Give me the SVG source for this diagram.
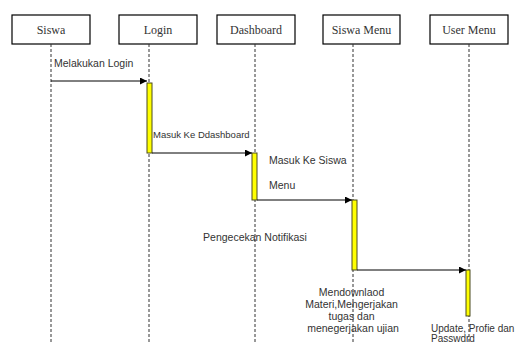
<svg xmlns="http://www.w3.org/2000/svg" width="516" height="344" viewBox="0 0 516 344">
  <style>
    .head rect { fill: #ffffff; stroke: #000000; stroke-width: 1.2; }
    .head text { font-family: "Liberation Serif", "Times New Roman", serif; font-size: 12px; fill: #333333; text-anchor: middle; }
    .life { stroke: #333333; stroke-width: 1; stroke-dasharray: 3 2; fill: none; }
    .act { fill: #ffff00; stroke: #4a4a20; stroke-width: 1; }
    .msg { stroke: #000000; stroke-width: 1; fill: none; marker-end: url(#arrow); }
    .lbl { font-family: "Liberation Sans", Arial, sans-serif; font-size: 10.5px; fill: #333333; }
  </style>
  <defs>
    <marker id="arrow" viewBox="0 0 10 10" refX="10" refY="5" markerWidth="7" markerHeight="7" markerUnits="userSpaceOnUse" orient="auto">
      <path d="M0,0 L10,5 L0,10 Z" fill="#000000"/>
    </marker>
  </defs>

  <rect width="516" height="344" fill="#ffffff"/>

  <!-- participants -->
  <g id="siswa" class="head">
    <rect x="12" y="15" width="78" height="29"/>
    <line class="life" x1="51" y1="44" x2="51" y2="344"/>
    <text x="51" y="34">Siswa</text>
  </g>
  <g id="login" class="head">
    <rect x="119" y="15" width="78" height="29"/>
    <line class="life" x1="149" y1="44" x2="149" y2="344"/>
    <text x="158" y="34">Login</text>
  </g>
  <g id="dashboard" class="head">
    <rect x="217" y="15" width="78" height="29"/>
    <line class="life" x1="255" y1="44" x2="255" y2="344"/>
    <text x="256" y="34">Dashboard</text>
  </g>
  <g id="siswa-menu" class="head">
    <rect x="323" y="15" width="77" height="29"/>
    <line class="life" x1="353" y1="44" x2="353" y2="344"/>
    <text x="361.5" y="34">Siswa Menu</text>
  </g>
  <g id="user-menu" class="head">
    <rect x="430" y="15" width="78" height="29"/>
    <line class="life" x1="469" y1="44" x2="469" y2="344"/>
    <text x="469" y="34">User Menu</text>
  </g>

  <!-- activation bars -->
  <g id="activations">
    <rect class="act" x="147" y="83" width="5" height="70"/>
    <rect class="act" x="252" y="153" width="5" height="47"/>
    <rect class="act" x="352" y="200" width="5" height="70"/>
    <rect class="act" x="466" y="270" width="4" height="46"/>
  </g>

  <!-- messages -->
  <g id="connectors">
    <line class="msg" x1="51" y1="81" x2="147" y2="81"/>
    <line class="msg" x1="152" y1="153" x2="252" y2="153"/>
    <line class="msg" x1="257" y1="200" x2="352" y2="200"/>
    <line class="msg" x1="357" y1="270" x2="466" y2="270"/>
  </g>

  <!-- message labels -->
  <g id="labels" class="lbl">
    <text x="54" y="67">Melakukan Login</text>
    <text x="153" y="138" font-size="9.5">Masuk Ke Ddashboard</text>
    <text x="269" y="164">Masuk Ke Siswa</text>
    <text x="269" y="189">Menu</text>
    <text x="255" y="241" text-anchor="middle">Pengecekan Notifikasi</text>
    <text text-anchor="middle">
      <tspan x="353" y="296">Mendownlaod</tspan>
      <tspan x="353" y="308">Materi,Mengerjakan</tspan>
      <tspan x="353" y="320">tugas dan</tspan>
      <tspan x="353" y="332">menegerjakan ujian</tspan>
    </text>
    <text x="431" y="332" font-size="10">Update, Profie dan</text>
    <text x="431" y="342" font-size="10">Passwdrd</text>
  </g>
</svg>
